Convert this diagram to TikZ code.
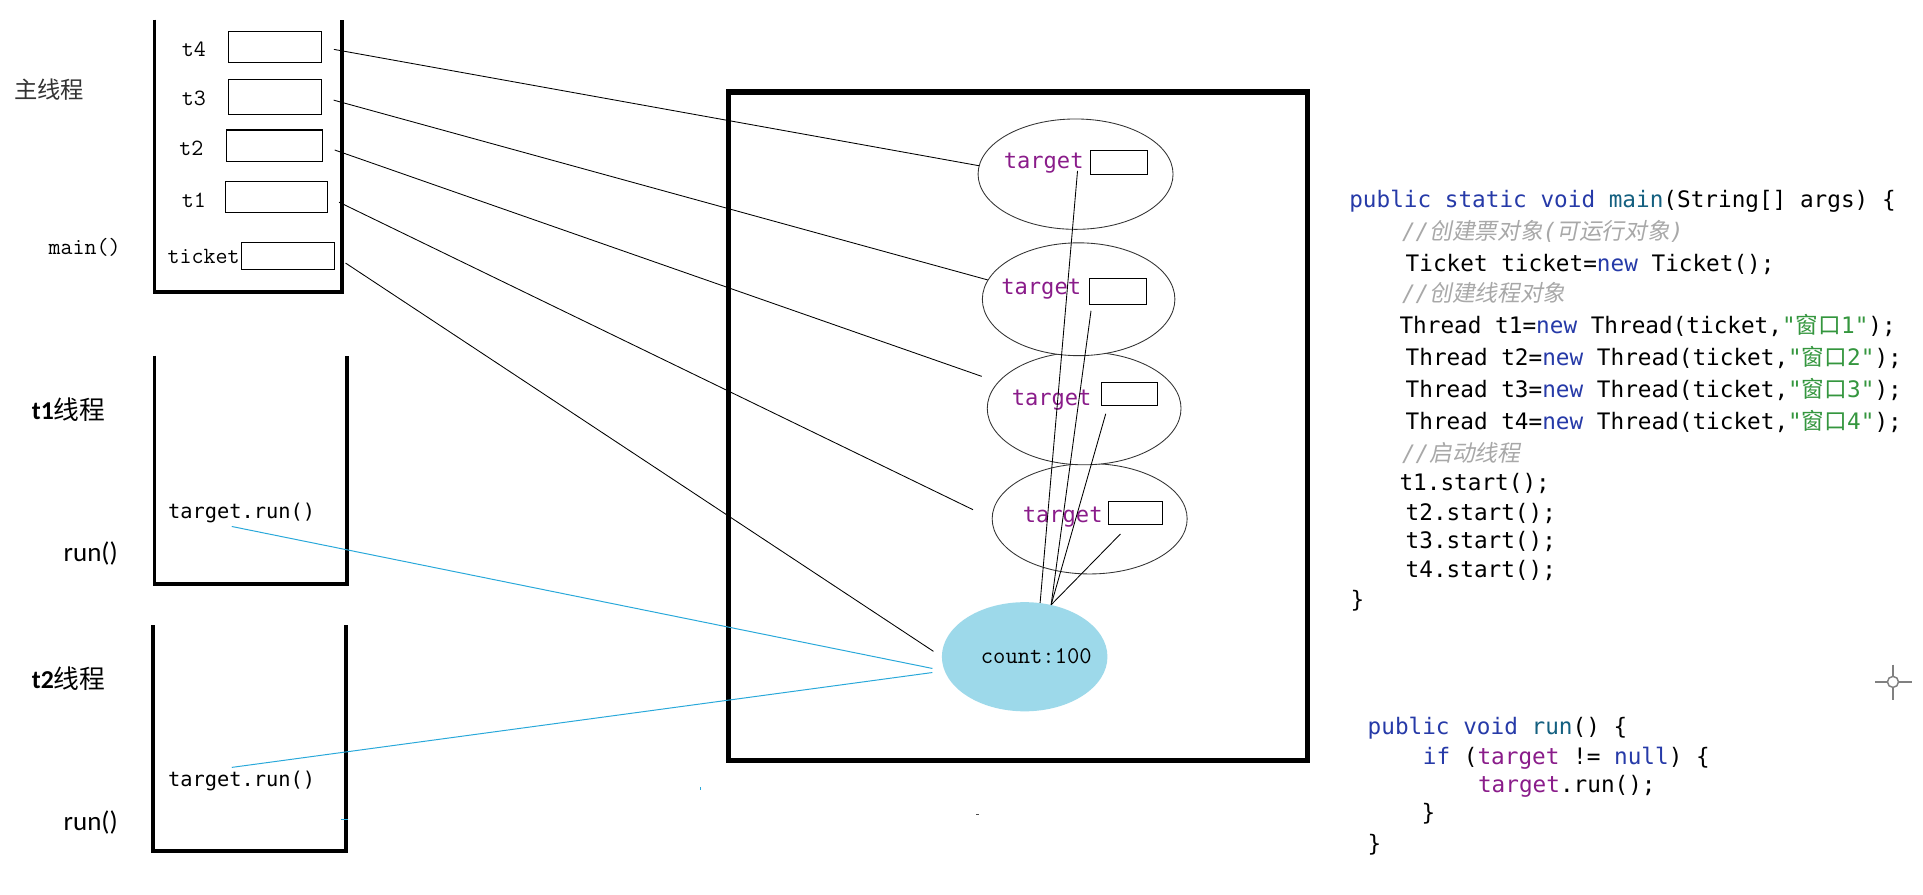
\documentclass[tikz,border=0pt]{standalone}
\usepackage{fontspec}
\usepackage{tikz}
\usetikzlibrary{shapes.geometric,positioning}

\newfontfamily\codefont{DejaVu Sans Mono}
\newfontfamily\zhfont{Noto Sans CJK SC}
\newfontfamily\zhslant[FakeSlant=0.2]{Noto Sans CJK SC}
\newfontfamily\uifont{Carlito}

\definecolor{kwblue}{RGB}{38,58,168}
\definecolor{mthteal}{RGB}{20,96,128}
\definecolor{strgreen}{RGB}{52,150,62}
\definecolor{cmtgrey}{RGB}{168,168,168}
\definecolor{fldpurple}{RGB}{138,28,138}
\definecolor{countblue}{RGB}{157,217,234}
\definecolor{callblue}{RGB}{40,168,218}

\newcommand\kwd[1]{\textcolor{kwblue}{#1}}
\newcommand\mth[1]{\textcolor{mthteal}{#1}}
\newcommand\strg[1]{\textcolor{strgreen}{#1}}
\newcommand\cmt[1]{\textcolor{cmtgrey}{\itshape #1}}
\newcommand\fld[1]{\textcolor{fldpurple}{#1}}
\newcommand\zh[1]{{\zhfont #1}}
\newcommand\zhi[1]{{\zhslant #1}}

\begin{document}
\begin{tikzpicture}[x=1pt,y=-1pt,
	stack/.style={line width=3pt,line join=miter},
	slot/.style={draw,line width=0.9pt,inner sep=0},
	lbl/.style={font=\ttfamily\fontsize{19}{20}\selectfont,inner sep=0},
	obj/.style={ellipse,draw=black!80,fill=white,line width=0.7pt,inner sep=0},
	tgt/.style={font=\codefont\fontsize{18}{20}\selectfont,text=fldpurple,inner sep=0},
	code/.style={font=\codefont\fontsize{18.5}{22}\selectfont,anchor=base west,inner sep=0,
		text height=13pt,text depth=4pt},
	ref/.style={line width=0.7pt,shorten <=10pt},
	link/.style={line width=0.7pt},
	call/.style={callblue,line width=0.8pt,shorten >=10pt}]

	\fill[white] (0,0) rectangle (1568,729);
	\useasboundingbox (0,0) rectangle (1568,729);

	% main thread stack
	\draw[stack] (126,16) -- (126,238) -- (279,238) -- (279,16);
	\node[font=\zhfont\fontsize{19}{20}\selectfont,text=black!80] (mainth) at (40,73) {主线程};
	\node[lbl] (mainlbl) at (69,202) {main()};

	\node[lbl] (t4lbl) at (158,40) {t4};
	\node[lbl] (t3lbl) at (158,80) {t3};
	\node[lbl] (t2lbl) at (156,121) {t2};
	\node[lbl] (t1lbl) at (158,163) {t1};
	\node[lbl] (tklbl) at (166,209) {ticket};

	\node[slot,minimum width=76pt,minimum height=25pt] (t4box) at (224,38.5) {};
	\node[slot,minimum width=76pt,minimum height=28pt] (t3box) at (224,79) {};
	\node[slot,minimum width=78pt,minimum height=26pt] (t2box) at (224,119) {};
	\node[slot,minimum width=83pt,minimum height=25pt] (t1box) at (225.5,160.5) {};
	\node[slot,minimum width=76pt,minimum height=22pt] (tkbox) at (235,209) {};

	% t1 thread stack
	\draw[stack] (126,290) -- (126,476) -- (283,476) -- (283,290);
	\node[font=\fontsize{21}{22}\selectfont,inner sep=0] (t1th) at (56,334) {{\uifont\bfseries t1}\zh{线程}};
	\node[font=\codefont\fontsize{16.6}{18}\selectfont,inner sep=3pt] (tr1) at (197,418) {target.run()};
	\node[font=\uifont\fontsize{22}{24}\selectfont,inner sep=0] (run1) at (74,451) {run()};

	% t2 thread stack
	\draw[stack] (125,510) -- (125,694) -- (282,694) -- (282,510);
	\node[font=\fontsize{21}{22}\selectfont,inner sep=0] (t2th) at (56,553) {{\uifont\bfseries t2}\zh{线程}};
	\node[font=\codefont\fontsize{16.6}{18}\selectfont,inner sep=3pt] (tr2) at (197,637) {target.run()};
	\node[font=\uifont\fontsize{22}{24}\selectfont,inner sep=0] (run2) at (74,671) {run()};
	\draw[callblue,line width=0.8pt] (278,668) -- (284,668);

	% heap
	\draw[line width=4.5pt] (594,75) rectangle (1066,620);

	\node[obj,minimum width=159pt,minimum height=90pt] (E1) at (888.5,423) {};
	\node[obj,minimum width=158pt,minimum height=92pt] (E2) at (884,333) {};
	\node[obj,minimum width=157pt,minimum height=92pt] (E3) at (879.5,244) {};
	\node[obj,minimum width=159pt,minimum height=90pt] (E4) at (877,142) {};

	\node[tgt] (g4) at (851,133) {target};
	\node[tgt] (g3) at (849,236) {target};
	\node[tgt] (g2) at (857.5,326) {target};
	\node[tgt] (g1) at (866.5,421.5) {target};

	\node[slot,line width=0.8pt,minimum width=47pt,minimum height=19pt] (b4) at (912.5,132.5) {};
	\node[slot,line width=0.8pt,minimum width=47pt,minimum height=21pt] (b3) at (911.5,237.5) {};
	\node[slot,line width=0.8pt,minimum width=46pt,minimum height=19pt] (b2) at (921,321.5) {};
	\node[slot,line width=0.8pt,minimum width=43.5pt,minimum height=19.5pt] (b1) at (925.75,418.25) {};

	\node[ellipse,fill=countblue,minimum width=135pt,minimum height=89pt,inner sep=0] (count) at (835.5,535.5) {};
	\node[font=\ttfamily\fontsize{19.5}{20}\selectfont,inner sep=0] (cnt) at (845,535) {count:100};

	\draw[ref] (t4box.east) -- (E4.175);
	\draw[ref] (t3box.east) -- (E3.168);
	\draw[ref,shorten >=14pt] (t2box.east) -- (E2.163);
	\draw[ref,shorten >=17pt] (t1box.east) -- (E1.west);
	\draw[ref,shorten >=8pt] (tkbox.east) -- (count.west);

	\draw[link] ([xshift=-10pt,yshift=3pt]b4.south west) -- (count.74);
	\draw[link] ([xshift=2pt,yshift=-5pt]b3.south west) -- (count.63);
	\draw[link] ([xshift=4pt,yshift=-6pt]b2.south west) -- (count.63);
	\draw[link] ([xshift=10pt,yshift=-7pt]b1.south west) -- (count.63);

	\draw[call] ([xshift=-8pt]tr1.south) -- (count.190);
	\draw[call] ([xshift=-8pt]tr2.north) -- (count.190);

	\draw[callblue,line width=0.8pt] (571,642) -- (571,644);
	\draw[black!70,line width=0.9pt] (796,664) -- (798,664);

	% source code
	\node[code] (c1) at (1100,169) {\kwd{public static void} \mth{main}(String[] args) \{};
	\node[code] (c2) at (1143,195) {\cmt{//\zhi{创建票对象}(\zhi{可运行对象})}};
	\node[code] (c3) at (1146,221) {Ticket ticket=\kwd{new} Ticket();};
	\node[code] (c4) at (1143,246) {\cmt{//\zhi{创建线程对象}}};
	\node[code] (c5) at (1141,272) {Thread t1=\kwd{new} Thread(ticket,\strg{"\zh{窗口}1"});};
	\node[code] (c6) at (1146,298) {Thread t2=\kwd{new} Thread(ticket,\strg{"\zh{窗口}2"});};
	\node[code] (c7) at (1146,324) {Thread t3=\kwd{new} Thread(ticket,\strg{"\zh{窗口}3"});};
	\node[code] (c8) at (1146,350) {Thread t4=\kwd{new} Thread(ticket,\strg{"\zh{窗口}4"});};
	\node[code] (c9) at (1143,376) {\cmt{//\zhi{启动线程}}};
	\node[code] (c10) at (1141,400) {t1.start();};
	\node[code] (c11) at (1146,424) {t2.start();};
	\node[code] (c12) at (1146,447) {t3.start();};
	\node[code] (c13) at (1146,471) {t4.start();};
	\node[code] (c14) at (1101,495) {\}};

	\node[code] (r1) at (1115,599) {\kwd{public void} \mth{run}() \{};
	\node[code] (r2) at (1160,623) {\kwd{if} (\fld{target} != \kwd{null}) \{};
	\node[code] (r3) at (1205,646) {\fld{target}.run();};
	\node[code] (r4) at (1159,669) {\}};
	\node[code] (r5) at (1115,694) {\}};

	% cursor mark
	\draw[gray,line width=1.2pt] (1543.5,556) circle (4.5);
	\draw[gray,line width=1.2pt] (1543.5,542) -- (1543.5,551.5) (1543.5,560.5) -- (1543.5,571)
		(1529,556) -- (1539,556) (1548,556) -- (1559,556);

\end{tikzpicture}
\end{document}
